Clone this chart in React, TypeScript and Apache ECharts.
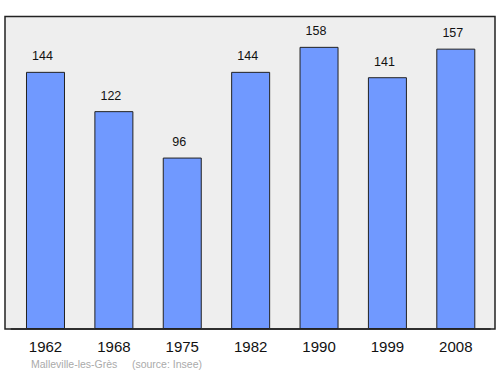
import React, { useEffect, useRef } from "react";
import * as echarts from "echarts";

const categories = ["1962", "1968", "1975", "1982", "1990", "1999", "2008"];
const values = [144, 122, 96, 144, 158, 141, 157];
const footerText = "Malleville-les-Grès     (source: Insee)";

export default function App() {
  const ref = useRef<HTMLDivElement>(null);
  useEffect(() => {
    const chart = echarts.init(ref.current!, null, { renderer: "svg" });
    chart.setOption({
      animation: false,
      backgroundColor: "#ffffff",
      graphic: [
        {
          type: "rect",
          shape: { x: 5, y: 16.5, width: 490, height: 312.5 },
          style: { fill: "#eeeeee", stroke: "#222222", lineWidth: 1.5 },
          z: -10,
        },
        {
          type: "text",
          left: 31,
          top: 358.5,
          style: {
            text: footerText,
            fill: "#aaaaaa",
            font: "10.5px 'Liberation Sans', Arial, sans-serif",
          },
        },
      ],
      grid: { left: 11.3, right: 10, top: 16.5, bottom: 45, containLabel: false },
      xAxis: {
        type: "category",
        data: categories,
        axisLine: { show: true, lineStyle: { color: "#222222", width: 1.5 } },
        axisTick: { show: false },
        axisLabel: {
          color: "#111111",
          fontSize: 15,
          margin: 10,
          fontFamily: "'Liberation Sans', Arial, sans-serif",
        },
      },
      yAxis: {
        type: "value",
        min: 0,
        max: 175,
        show: false,
        splitLine: { show: false },
      },
      series: [
        {
          type: "bar",
          data: values,
          barWidth: 39,
          itemStyle: { color: "#7099ff", borderColor: "#222222", borderWidth: 1 },
          label: {
            show: true,
            position: "top",
            distance: 9,
            offset: [-3, 0],
            color: "#111111",
            fontSize: 12.5,
            fontFamily: "'Liberation Sans', Arial, sans-serif",
          },
        },
      ],
    });
    return () => chart.dispose();
  }, []);
  return <div ref={ref} style={{ width: 500, height: 374, position: "absolute", left: 0, top: 0 }} />;
}
